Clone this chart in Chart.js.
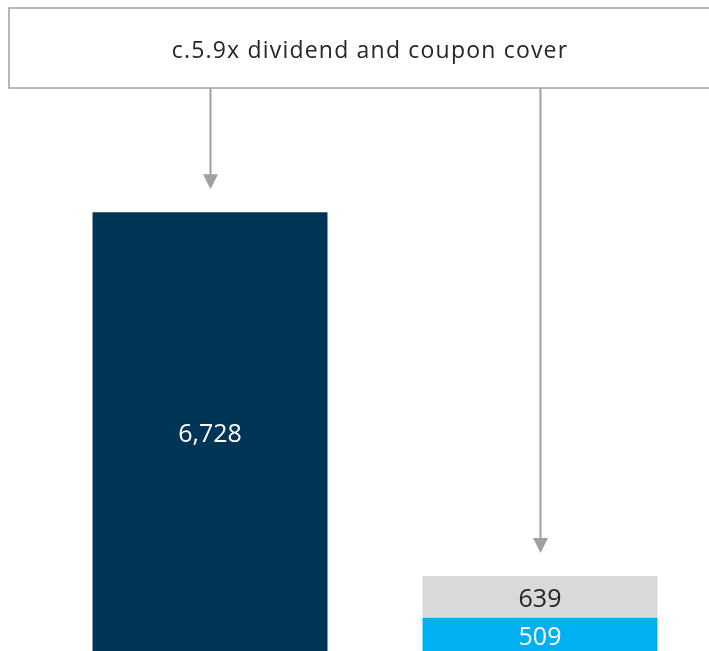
<!DOCTYPE html>
<html>
<head>
<meta charset="utf-8">
<script src="https://cdn.jsdelivr.net/npm/chart.js@4"></script>
<style>
  html, body { margin:0; padding:0; background:#fff; }
  #wrap { width:709px; height:651px; position:relative; }
</style>
</head>
<body>
<div id="wrap"><canvas id="chart" width="709" height="651"></canvas></div>
<script>
// data
const categories = ['Cash generated', 'Dividends and coupons'];
const cashValues = [6728, null];
const dividendValues = [null, 509];
const couponValues = [null, 639];
const coverText = 'c.5.9x dividend and coupon cover';
const yMax = 9980;

const FONT = '"Open Sans", "Noto Sans", sans-serif';
const NAVY = '#003556', BLUE = '#00b0f0', GREY = '#d9d9d9', LINE = '#a0a0a0';

// bar labels drawn in the middle of each segment
const barLabels = {
  id:'barLabels',
  afterDatasetsDraw(c){
    const ctx = c.ctx;
    ctx.save();
    ctx.font = `25px ${FONT}`;
    ctx.textAlign = 'center';
    ctx.textBaseline = 'middle';
    c.data.datasets.forEach((ds, di) => {
      c.getDatasetMeta(di).data.forEach((bar, i) => {
        const v = ds.data[i];
        if (v == null) return;
        ctx.fillStyle = ds.labelColor;
        ctx.fillText(v.toLocaleString('en-US'), bar.x, (bar.y + bar.base)/2 + 3);
      });
    });
    ctx.restore();
  }
};

// cover box with arrows to the tops of the bars
const coverBox = {
  id:'coverBox',
  afterDraw(c){
    const ctx = c.ctx, x = c.scales.x, y = c.scales.y;
    const boxTop = 8, boxBottom = 88, boxLeft = 9;
    ctx.save();
    ctx.strokeStyle = LINE;
    ctx.lineWidth = 1.5;
    ctx.fillStyle = '#fff';
    ctx.fillRect(boxLeft, boxTop, c.width, boxBottom - boxTop);
    ctx.strokeRect(boxLeft, boxTop, c.width, boxBottom - boxTop);
    ctx.fillStyle = '#262626';
    ctx.font = `23px ${FONT}`;
    ctx.letterSpacing = '1.2px';
    ctx.textAlign = 'center';
    ctx.textBaseline = 'middle';
    ctx.fillText(coverText, 370, 51);
    ctx.letterSpacing = '0px';

    const tops = [cashValues[0], dividendValues[1] + couponValues[1]];
    tops.forEach((v, i) => {
      const cx = Math.round(x.getPixelForValue(i)) + 0.5;
      const tip = y.getPixelForValue(v) - 23;
      ctx.strokeStyle = LINE;
      ctx.lineWidth = 2;
      ctx.beginPath();
      ctx.moveTo(cx, boxBottom);
      ctx.lineTo(cx, tip - 12);
      ctx.stroke();
      ctx.fillStyle = LINE;
      ctx.beginPath();
      ctx.moveTo(cx - 7.5, tip - 15);
      ctx.lineTo(cx + 7.5, tip - 15);
      ctx.lineTo(cx, tip);
      ctx.closePath();
      ctx.fill();
    });
    ctx.restore();
  }
};

new Chart(document.getElementById('chart').getContext('2d'), {
  type:'bar',
  data:{
    labels: categories,
    datasets:[
      { label:'Cash', data:cashValues, backgroundColor:NAVY, labelColor:'#fff' },
      { label:'Dividends', data:dividendValues, backgroundColor:BLUE, labelColor:'#fff' },
      { label:'Coupons', data:couponValues, backgroundColor:GREY, labelColor:'#262626' }
    ]
  },
  options:{
    responsive:false,
    animation:false,
    layout:{ padding:{ left:45, right:4, top:0, bottom:0 } },
    datasets:{ bar:{ categoryPercentage:1, barPercentage:0.712, borderWidth:0, skipNull:false } },
    plugins:{ legend:{display:false}, tooltip:{enabled:false} },
    scales:{
      x:{ stacked:true, display:false },
      y:{ stacked:true, display:false, min:0, max:yMax }
    }
  },
  plugins:[barLabels, coverBox]
});
</script>
</body>
</html>
